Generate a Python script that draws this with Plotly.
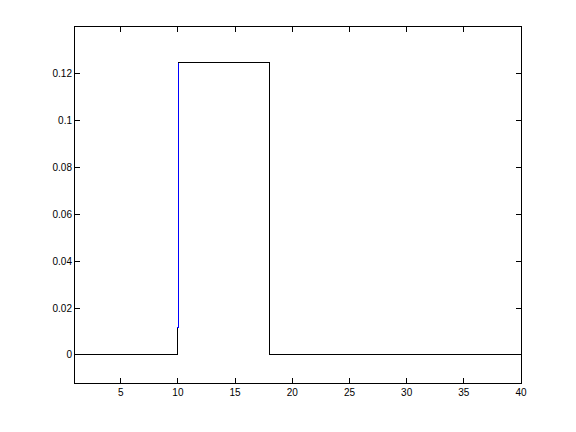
import plotly.graph_objects as go

# data: step outline (black) and the rising edge drawn in blue
x_black = [1, 9.95, 9.95, None, 10.03, 18, 18, 40]
y_black = [0, 0, 0.0115, None, 0.125, 0.125, 0, 0]

x_blue = [9.95, 10.03, 10.03, 10.03]
y_blue = [0.0115, 0.0115, 0.0115, 0.125]

x_ticks = [5, 10, 15, 20, 25, 30, 35, 40]
y_ticks = [0, 0.02, 0.04, 0.06, 0.08, 0.1, 0.12]
y_tick_labels = ["0", "0.02", "0.04", "0.06", "0.08", "0.1", "0.12"]

fig = go.Figure()
fig.add_trace(go.Scatter(x=x_blue, y=y_blue, mode="lines",
                         line=dict(color="#0000FF", width=1), showlegend=False))
fig.add_trace(go.Scatter(x=x_black, y=y_black, mode="lines", connectgaps=False,
                         line=dict(color="#000000", width=1), showlegend=False))

W, H = 576, 432
left = 75
right = W - 521
top = 27
bottom = H - 383

axis_common = dict(showgrid=False, zeroline=False, showline=True, linecolor="black",
                   linewidth=1, mirror="ticks", ticks="inside", ticklen=5,
                   tickcolor="black", tickwidth=1,
                   tickfont=dict(family="Liberation Sans, Arial, sans-serif", size=10, color="black"))

fig.update_layout(
    width=W, height=H,
    margin=dict(l=left, r=right, t=top, b=bottom, pad=0),
    paper_bgcolor="white", plot_bgcolor="white",
    xaxis=dict(range=[1, 40], tickvals=x_ticks, **axis_common),
    yaxis=dict(range=[-0.012, 0.140], tickvals=y_ticks, ticktext=y_tick_labels, **axis_common),
)

fig.write_html("out.html", config={"displayModeBar": False})

# remove the browser's default page margin; draw data lines without antialiasing
with open("out.html", "r", encoding="utf-8") as f:
    html = f.read()
html = html.replace(
    "<head>",
    "<head><style>html,body{margin:0;padding:0;}"
    ".scatterlayer path{shape-rendering:crispEdges;}</style>", 1)
with open("out.html", "w", encoding="utf-8") as f:
    f.write(html)
